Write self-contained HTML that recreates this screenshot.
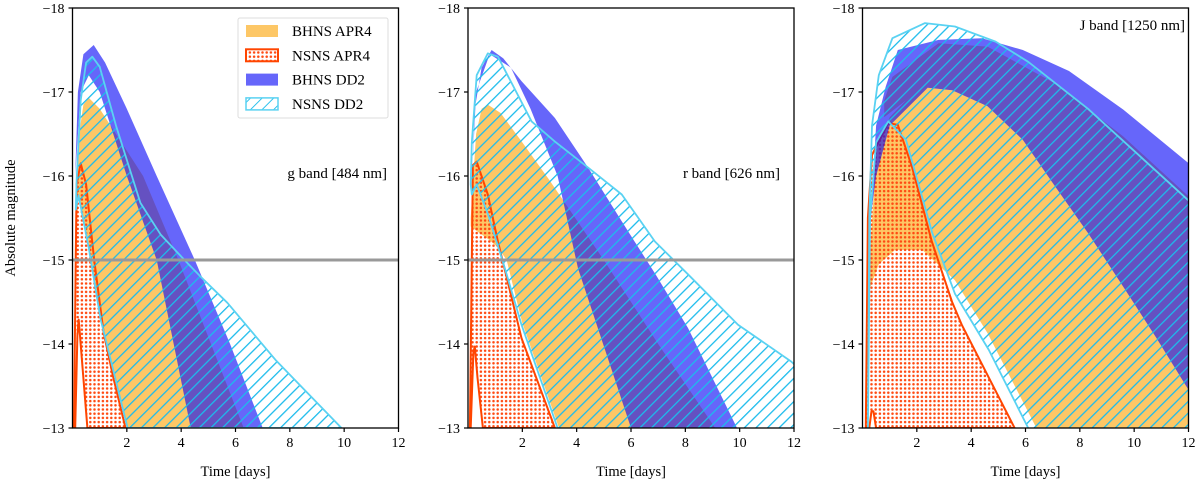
<!DOCTYPE html>
<html><head><meta charset="utf-8">
<style>
html,body{margin:0;padding:0;background:#fff;}
svg{display:block;font-family:"Liberation Serif",serif;}
</style></head>
<body>
<svg id="chart" width="1200" height="491" viewBox="0 0 1200 491" xmlns="http://www.w3.org/2000/svg">
<defs>
<pattern id="dots" patternUnits="userSpaceOnUse" width="4.2" height="4.2">
<circle cx="2.1" cy="2.1" r="1.25" fill="#ff4a12"/>
</pattern>
<pattern id="hatch" patternUnits="userSpaceOnUse" width="8.2" height="8.2" patternTransform="rotate(45)">
<line x1="0" y1="0" x2="0" y2="8.2" stroke="#1cbcec" stroke-width="2.6"/>
</pattern>
<pattern id="hatchLegend" patternUnits="userSpaceOnUse" width="8.2" height="8.2" patternTransform="rotate(45)">
<line x1="0" y1="0" x2="0" y2="8.2" stroke="#1cbcec" stroke-width="1.8"/>
</pattern>
</defs>
<g id="plots"></g>
<text x="0" y="0" transform="translate(15,218) rotate(-90)" text-anchor="middle" font-size="14.5">Absolute magnitude</text>
</svg>
<script>
// ---------- g band ----------
const g_apr4bh_upT = [0.08,0.2,0.4,0.6,1.0,1.7,2.6,3.9,5.1,6.3];
const g_apr4bh_upM = [-15.0,-16.4,-16.85,-16.93,-16.8,-16.45,-16.0,-15.0,-14.0,-13.0];
const g_apr4bh_loT = [0.08,0.22,0.6,1.03,2.03];
const g_apr4bh_loM = [-15.0,-15.77,-15.14,-14.3,-13.0];
const g_apr4ns_upT = [0.05,0.15,0.3,0.5,0.8,1.15,1.5,1.95];
const g_apr4ns_upM = [-13.0,-15.9,-16.15,-15.9,-15.0,-14.13,-13.6,-13.0];
const g_apr4ns_loT = [0.1,0.18,0.23,0.35,0.55];
const g_apr4ns_loM = [-13.0,-14.1,-14.29,-13.8,-13.0];
const g_dd2bh_upT = [0.1,0.2,0.4,0.78,1.2,2.0,3.1,4.5,5.8,7.0];
const g_dd2bh_upM = [-16.0,-17.0,-17.45,-17.56,-17.35,-16.8,-16.0,-15.0,-14.0,-13.0];
const g_dd2bh_loT = [0.1,0.3,0.6,1.0,2.0,3.1,4.35];
const g_dd2bh_loM = [-16.0,-17.0,-17.2,-17.0,-16.0,-15.0,-13.0];
const g_dd2ns_upT = [0.12,0.15,0.3,0.5,0.73,1.0,1.6,2.5,3.25,4.24,4.72,5.7,7.5,9.9];
const g_dd2ns_upM = [-15.6,-15.95,-16.9,-17.35,-17.42,-17.3,-16.6,-15.68,-15.3,-14.96,-14.8,-14.49,-13.8,-13.0];
const g_dd2ns_loT = [0.12,0.22,0.6,1.03,2.03];
const g_dd2ns_loM = [-15.6,-15.77,-15.14,-14.3,-13.0];
// ---------- r band ----------
const r_apr4bh_upT = [0.1,0.3,0.5,0.73,1.2,2.0,3.0,5.0,7.0,9.1];
const r_apr4bh_upM = [-15.5,-16.5,-16.8,-16.85,-16.75,-16.4,-15.95,-15.0,-14.0,-13.0];
const r_apr4bh_loT = [0.1,0.3,0.74,1.1,1.42,2.0,3.35];
const r_apr4bh_loM = [-15.4,-15.35,-15.25,-15.15,-15.0,-14.25,-13.0];
const r_apr4ns_upT = [0.07,0.18,0.32,0.73,1.1,1.97,3.2];
const r_apr4ns_upM = [-13.0,-16.13,-16.17,-15.78,-15.22,-14.07,-13.0];
const r_apr4ns_loT = [0.1,0.2,0.25,0.35,0.55];
const r_apr4ns_loM = [-13.0,-13.9,-13.97,-13.6,-13.0];
const r_dd2bh_upT = [0.15,0.25,0.5,0.87,1.3,1.97,3.2,4.42,5.66,6.9,8.1,9.9];
const r_dd2bh_upM = [-16.0,-16.8,-17.29,-17.5,-17.4,-17.13,-16.69,-16.1,-15.46,-14.83,-14.19,-13.0];
const r_dd2bh_loT = [0.15,0.3,0.8,1.58,2.3,3.3,4.05,6.0];
const r_dd2bh_loM = [-16.0,-17.0,-17.45,-17.29,-16.8,-16.0,-14.9,-13.0];
const r_dd2ns_upT = [0.1,0.14,0.32,0.73,1.1,2.34,3.2,4.42,5.66,6.88,8.1,9.94,11.9,12.2];
const r_dd2ns_upM = [-15.9,-16.4,-17.2,-17.46,-17.42,-16.65,-16.41,-16.1,-15.78,-15.22,-14.83,-14.23,-13.79,-13.7];
const r_dd2ns_loT = [0.1,0.14,0.32,0.74,1.36,1.97,3.3];
const r_dd2ns_loM = [-15.9,-15.78,-15.9,-15.54,-14.9,-14.23,-13.0];
// ---------- J band ----------
const j_apr4bh_upT = [0.2,0.5,1.0,1.6,2.4,3.3,4.6,5.9,7.1,8.3,9.6,10.8,12.2];
const j_apr4bh_upM = [-14.6,-16.3,-16.7,-16.9,-17.05,-17.02,-16.83,-16.43,-15.87,-15.32,-14.68,-14.08,-13.35];
const j_apr4bh_loT = [0.2,0.6,1.2,2.2,3.4,4.6,6.4];
const j_apr4bh_loM = [-14.6,-14.95,-15.12,-15.12,-14.76,-14.13,-13.0];
const j_band2_upT = [0.8,1.1,2.8,4.6,7.1,9.6,12.2];
const j_band2_upM = [-16.9,-17.18,-17.58,-17.54,-17.1,-16.47,-15.7];
const j_band2_loT = [0.8,1.6,2.4,3.3,4.6,5.9,7.1,8.3,9.6,10.8,12.2];
const j_band2_loM = [-16.7,-16.9,-17.05,-17.02,-16.83,-16.43,-15.87,-15.32,-14.68,-14.08,-13.35];
const j_apr4ns_upT = [0.12,0.2,0.35,0.95,1.3,1.83,2.55,3.3,3.65,5.6];
const j_apr4ns_upM = [-13.0,-15.5,-16.25,-16.63,-16.61,-16.1,-15.22,-14.5,-14.23,-13.0];
const j_apr4ns_loT = [0.25,0.33,0.4,0.5];
const j_apr4ns_loM = [-13.0,-13.2,-13.2,-13.0];
const j_dd2bh_upT = [0.3,0.5,0.85,1.3,2.8,4.4,5.9,7.6,9.6,12.2];
const j_dd2bh_upM = [-15.5,-16.6,-17.06,-17.5,-17.62,-17.64,-17.5,-17.25,-16.79,-16.1];
const j_dd2bh_loT = [0.3,0.5,1.0,2.4,3.3,4.6,5.9,7.1,8.3,9.6,10.8,12.2];
const j_dd2bh_loM = [-15.5,-16.0,-16.6,-17.05,-17.02,-16.83,-16.43,-15.87,-15.32,-14.68,-14.08,-13.35];
const j_dd2ns_upT = [0.2,0.25,0.35,0.6,1.1,2.3,3.4,4.9,6.1,8.3,12.2];
const j_dd2ns_upM = [-13.0,-15.5,-16.6,-17.2,-17.64,-17.82,-17.78,-17.6,-17.36,-16.8,-15.65];
const j_dd2ns_loT = [0.2,0.28,0.5,0.95,1.6,2.57,3.4,4.65,6.1];
const j_dd2ns_loM = [-13.0,-15.5,-16.4,-16.65,-16.43,-15.32,-14.6,-13.93,-13.0];

const xTicks = [2,4,6,8,10,12];
const yTicks = [-18,-17,-16,-15,-14,-13];
const bandLabels = ["g band [484 nm]","r band [626 nm]","J band [1250 nm]"];
const legendLabels = ["BHNS APR4","NSNS APR4","BHNS DD2","NSNS DD2"];
const refLine = -15;

const NS = "http://www.w3.org/2000/svg";
const root = document.getElementById("plots");
const X0s = [72.5, 468, 862.5], W = 326, TOP = 8, BOT = 428;
function mk(tag, attrs, parent){const e=document.createElementNS(NS,tag);for(const k in attrs)e.setAttribute(k,attrs[k]);parent.appendChild(e);return e;}

const panels = [
 {key:"g", x0:X0s[0], label:bandLabels[0], lx:387, ly:178, ref:true,
  apr4bh:[g_apr4bh_upT,g_apr4bh_upM,g_apr4bh_loT,g_apr4bh_loM], extra:null,
  apr4ns:[g_apr4ns_upT,g_apr4ns_upM,g_apr4ns_loT,g_apr4ns_loM],
  dd2bh:[g_dd2bh_upT,g_dd2bh_upM,g_dd2bh_loT,g_dd2bh_loM],
  dd2ns:[g_dd2ns_upT,g_dd2ns_upM,g_dd2ns_loT,g_dd2ns_loM]},
 {key:"r", x0:X0s[1], label:bandLabels[1], lx:780, ly:178, ref:true,
  apr4bh:[r_apr4bh_upT,r_apr4bh_upM,r_apr4bh_loT,r_apr4bh_loM], extra:null,
  apr4ns:[r_apr4ns_upT,r_apr4ns_upM,r_apr4ns_loT,r_apr4ns_loM],
  dd2bh:[r_dd2bh_upT,r_dd2bh_upM,r_dd2bh_loT,r_dd2bh_loM],
  dd2ns:[r_dd2ns_upT,r_dd2ns_upM,r_dd2ns_loT,r_dd2ns_loM]},
 {key:"j", x0:X0s[2], label:bandLabels[2], lx:1185, ly:30, ref:false,
  apr4bh:[j_apr4bh_upT,j_apr4bh_upM,j_apr4bh_loT,j_apr4bh_loM],
  extra:[j_band2_upT,j_band2_upM,j_band2_loT,j_band2_loM],
  apr4ns:[j_apr4ns_upT,j_apr4ns_upM,j_apr4ns_loT,j_apr4ns_loM],
  dd2bh:[j_dd2bh_upT,j_dd2bh_upM,j_dd2bh_loT,j_dd2bh_loM],
  dd2ns:[j_dd2ns_upT,j_dd2ns_upM,j_dd2ns_loT,j_dd2ns_loM]}
];

panels.forEach((p, pi) => {
  const xs = t => p.x0 + t / 12 * W;
  const ys = m => TOP + (m + 18) / 5 * (BOT - TOP);
  const band = s => {
    const pts=[];
    const nU = s[0].length, nL = s[2].length;
    for(let i=0;i<nU;i++) pts.push(xs(s[0][i]).toFixed(1)+","+ys(s[1][i]).toFixed(1));
    // if the bands end above the axis floor at different times, drop to the floor first
    if (s[0][nU-1] !== s[2][nL-1] && s[1][nU-1] < -13.001) {
      pts.push(xs(s[0][nU-1]).toFixed(1)+","+ys(-12.8).toFixed(1));
      pts.push(xs(s[2][nL-1]).toFixed(1)+","+ys(-12.8).toFixed(1));
    }
    for(let i=nL-1;i>=0;i--) pts.push(xs(s[2][i]).toFixed(1)+","+ys(s[3][i]).toFixed(1));
    return pts.join(" ");
  };
  const g = mk("g",{},root);
  
  
  const cp = mk("clipPath",{id:"clip"+pi},g);
  mk("rect",{x:p.x0,y:TOP,width:W,height:BOT-TOP},cp);
  const plot = mk("g",{"clip-path":"url(#clip"+pi+")"},g);

  const o = mk("polygon",{points:band(p.apr4bh),fill:"#fdc766"},plot);
  
  
  if(p.extra){
    const e = mk("polygon",{points:band(p.extra),fill:"#fdc766"},plot);
    
    
  }
  const d = mk("polygon",{points:band(p.apr4ns),fill:"url(#dots)",stroke:"#ff4500","stroke-width":"2","stroke-linejoin":"round"},plot);
  
  
  const b = mk("polygon",{points:band(p.dd2bh),fill:"rgb(13,13,247)","fill-opacity":"0.63"},plot);
  
  
  const h = mk("polygon",{points:band(p.dd2ns),fill:"url(#hatch)",stroke:"#5ad2f2","stroke-width":"1.8","stroke-linejoin":"round"},plot);
  
  
  if(p.ref){
    const l = mk("line",{x1:p.x0,x2:p.x0+W,y1:ys(refLine),y2:ys(refLine),stroke:"#999","stroke-width":"3"},plot);
    
    
  }
  const fr = mk("rect",{x:p.x0,y:TOP,width:W,height:BOT-TOP,fill:"none",stroke:"#000","stroke-width":"1.3"},g);
  
  
  xTicks.forEach(v=>{
    mk("line",{x1:xs(v),x2:xs(v),y1:BOT,y2:BOT+4,stroke:"#000","stroke-width":"1.2"},g);
    const t = mk("text",{x:xs(v),y:BOT+19,"text-anchor":"middle","font-size":"14"},g);
    t.textContent = v;
    
    
  });
  yTicks.forEach(v=>{
    mk("line",{x1:p.x0-4,x2:p.x0,y1:ys(v),y2:ys(v),stroke:"#000","stroke-width":"1.2"},g);
    const t = mk("text",{x:p.x0-8,y:ys(v)+5,"text-anchor":"end","font-size":"14"},g);
    t.textContent = "\u2212"+Math.abs(v);
    
    
  });
  const xt = mk("text",{x:p.x0+W/2,y:476,"text-anchor":"middle","font-size":"14.5"},g);
  xt.textContent = "Time [days]";
  
  
  const bl = mk("text",{x:p.lx,y:p.ly,"text-anchor":"end","font-size":"15"},g);
  bl.textContent = p.label;
  
  
});

// legend
const lg = mk("g",{},root);


mk("rect",{x:238,y:18,width:150,height:100,fill:"#fff","fill-opacity":"0.85",stroke:"#ddd","stroke-width":"1",rx:"2"},lg);
const swatchStyles = [
 {fill:"#fdc766",stroke:"none"},
 {fill:"url(#dots)",stroke:"#ff4500","stroke-width":"2"},
 {fill:"rgb(13,13,247)","fill-opacity":"0.63",stroke:"none"},
 {fill:"url(#hatchLegend)",stroke:"#5ad2f2","stroke-width":"1.5"}
];
legendLabels.forEach((lab,i)=>{
  const y = 25 + i*24.3;
  const e = mk("g",{},lg);
  
  
  mk("rect",Object.assign({x:246,y:y,width:32,height:12},swatchStyles[i]),e);
  const t = mk("text",{x:292,y:y+11,"font-size":"15"},e);
  t.textContent = lab;
});
</script>
</body></html>
